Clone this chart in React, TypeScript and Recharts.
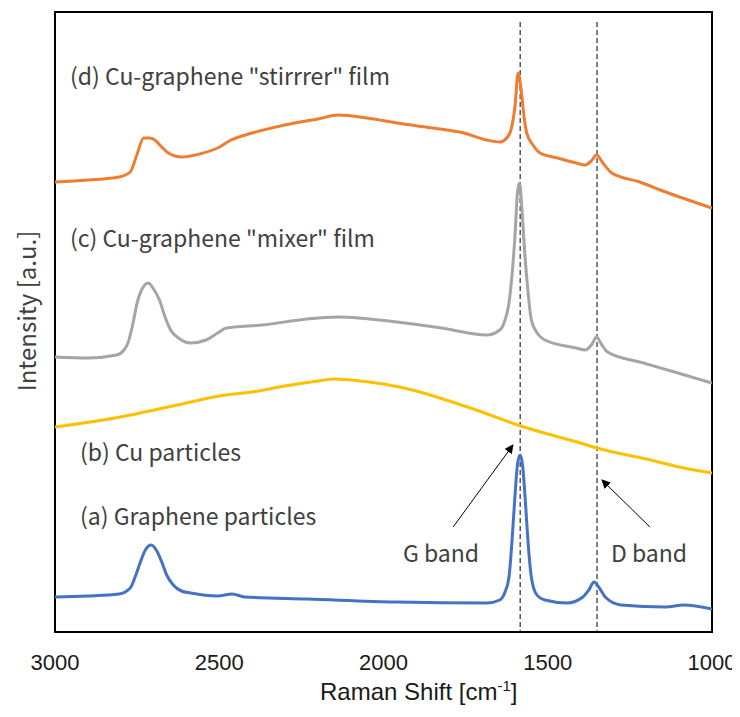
import { LineChart, Line, XAxis, YAxis, ReferenceLine, ReferenceArea } from "recharts";

// Raman spectra (intensity in arbitrary units, stacked offsets)
const xTicks = [3000, 2500, 2000, 1500, 1000];
const gBand = 1584;
const dBand = 1350;

// (a) Graphene particles
const shiftA = [3000, 2900, 2805, 2771, 2755, 2740, 2725, 2707, 2690, 2675, 2660, 2640, 2615, 2587, 2505, 2461, 2423, 2232, 1959, 1686, 1646, 1630, 1618, 1608, 1600, 1592, 1584, 1576, 1568, 1560, 1550, 1535, 1509, 1441, 1393, 1375, 1359, 1345, 1325, 1277, 1141, 1086, 1000];
const intensityA = [35, 36, 38, 44, 56, 70, 82, 87, 81, 70, 57, 47, 41, 39, 36, 38, 35, 33, 30, 29, 32, 40, 55, 95, 135, 168, 177, 165, 130, 90, 55, 38, 32, 29, 35, 42, 50, 45, 35, 27, 25, 27, 23];

// (b) Cu particles
const shiftB = [3000, 2800, 2600, 2500, 2400, 2300, 2200, 2150, 2100, 2000, 1900, 1800, 1700, 1600, 1500, 1400, 1350, 1200, 1100, 1000];
const intensityB = [205, 215, 229, 236, 240, 246, 251, 253, 252, 248, 241, 231, 220, 208, 198, 189, 184, 173, 165, 159];

// (c) Cu-graphene "mixer" film
const shiftC = [3000, 2900, 2812, 2790, 2778, 2765, 2750, 2735, 2716, 2700, 2682, 2665, 2648, 2620, 2587, 2540, 2505, 2478, 2368, 2232, 2137, 1959, 1823, 1686, 1646, 1630, 1618, 1608, 1600, 1592, 1586, 1578, 1570, 1560, 1550, 1530, 1509, 1414, 1386, 1365, 1352, 1335, 1318, 1209, 1114, 1000];
const intensityC = [275, 274, 277, 282, 289, 305, 329, 343, 349, 343, 332, 315, 302, 293, 289, 292, 299, 304, 307, 313, 315, 310, 304, 297, 302, 312, 329, 360, 395, 440, 449, 420, 379, 340, 312, 298, 292, 284, 282, 288, 295, 287, 280, 269, 260, 249];

// (d) Cu-graphene "stirrrer" film
const shiftD = [3000, 2900, 2805, 2771, 2750, 2730, 2712, 2696, 2675, 2655, 2614, 2560, 2505, 2464, 2400, 2300, 2200, 2137, 2050, 1959, 1850, 1755, 1686, 1646, 1625, 1612, 1600, 1590, 1582, 1572, 1564, 1545, 1523, 1470, 1414, 1386, 1365, 1352, 1330, 1305, 1220, 1141, 1000];
const intensityD = [450, 452, 455, 460, 478, 494, 494, 492, 485, 479, 475, 478, 484, 492, 499, 507, 513, 517, 514, 509, 504, 499, 492, 490, 494, 502, 525, 559, 545, 515, 499, 487, 479, 474, 469, 467, 472, 477, 468, 459, 450, 440, 424];

const toPoints = (xs: number[], ys: number[]) => xs.map((x, i) => ({ x, y: ys[i] }));

const seriesA = toPoints(shiftA, intensityA);
const seriesB = toPoints(shiftB, intensityB);
const seriesC = toPoints(shiftC, intensityC);
const seriesD = toPoints(shiftD, intensityD);

const noteFont = "'Noto Sans CJK JP', 'Noto Sans', sans-serif";
const axisFont = "'Liberation Sans', Arial, sans-serif";

const note = (left: number, top: number, text: string) => (
  <div
    style={{
      position: "absolute",
      left,
      top,
      fontFamily: noteFont,
      fontSize: 23,
      color: "#404040",
      whiteSpace: "nowrap",
      lineHeight: 1,
    }}
  >
    {text}
  </div>
);

export default function App() {
  return (
    <div style={{ position: "relative", width: 732, height: 709 }}>
      <svg width={0} height={0} style={{ position: "absolute" }}>
        <defs>
          <marker id="arrowHead" viewBox="0 0 10 10" refX="9" refY="5" markerWidth="9" markerHeight="9" orient="auto">
            <path d="M0,0 L10,5 L0,10 z" fill="#000" />
          </marker>
        </defs>
      </svg>
      <LineChart width={732} height={709} margin={{ top: 4, right: 28, left: 47, bottom: 0 }}>
        <XAxis
          type="number"
          dataKey="x"
          domain={[1000, 3000]}
          reversed
          ticks={xTicks}
          axisLine={false}
          tickLine={false}
          tickMargin={16}
          height={85}
          tick={{ fontFamily: axisFont, fontSize: 22, fill: "#1a1a1a" }}
          allowDataOverflow
        />
        <YAxis type="number" dataKey="y" domain={[0, 620]} hide allowDataOverflow />
        <ReferenceArea x1={3000} x2={1000} y1={0} y2={620} fill="none" stroke="#000" strokeWidth={2} ifOverflow="visible" />
        <ReferenceLine
          segment={[{ x: gBand, y: 610 }, { x: gBand, y: 0 }]}
          stroke="#000"
          strokeWidth={1}
          strokeDasharray="5 3"
        />
        <ReferenceLine
          segment={[{ x: dBand, y: 610 }, { x: dBand, y: 0 }]}
          stroke="#000"
          strokeWidth={1}
          strokeDasharray="5 3"
        />
        <Line data={seriesB} dataKey="y" type="monotone" stroke="#FFC000" strokeWidth={3} dot={false} isAnimationActive={false} />
        <Line data={seriesA} dataKey="y" type="monotone" stroke="#4472C4" strokeWidth={3} dot={false} isAnimationActive={false} />
        <Line data={seriesC} dataKey="y" type="monotone" stroke="#A5A5A5" strokeWidth={3} dot={false} isAnimationActive={false} />
        <Line data={seriesD} dataKey="y" type="monotone" stroke="#ED7D31" strokeWidth={3} dot={false} isAnimationActive={false} />
        <ReferenceLine
          segment={[{ x: 1788, y: 105 }, { x: 1606, y: 187 }]}
          stroke="#000"
          strokeWidth={1}
          markerEnd="url(#arrowHead)"
        />
        <ReferenceLine
          segment={[{ x: 1189, y: 105 }, { x: 1335, y: 152 }]}
          stroke="#000"
          strokeWidth={1}
          markerEnd="url(#arrowHead)"
        />
      </LineChart>
      {note(62, 56, "(d) Cu-graphene \"stirrrer\" film")}
      {note(62, 218, "(c) Cu-graphene \"mixer\" film")}
      {note(72, 432, "(b) Cu particles")}
      {note(72, 496, "(a) Graphene particles")}
      {note(395, 533, "G band")}
      {note(603, 533, "D band")}
      <div
        style={{
          position: "absolute",
          left: 18,
          top: 303,
          transform: "translate(-50%, -50%) rotate(-90deg)",
          fontFamily: noteFont,
          fontSize: 24,
          color: "#404040",
          whiteSpace: "nowrap",
          lineHeight: 1,
        }}
      >
        Intensity [a.u.]
      </div>
      <div
        style={{
          position: "absolute",
          left: 312,
          top: 670,
          fontFamily: axisFont,
          fontSize: 24,
          color: "#1a1a1a",
          whiteSpace: "nowrap",
          lineHeight: 1,
        }}
      >
        Raman Shift [cm<sup style={{ fontSize: 15 }}>-1</sup>]
      </div>
    </div>
  );
}
